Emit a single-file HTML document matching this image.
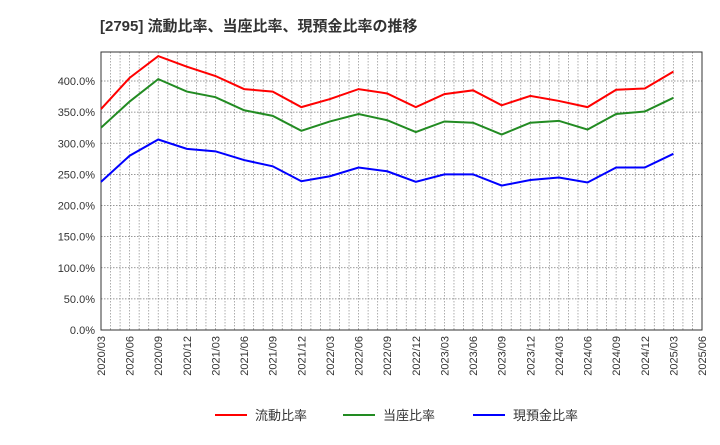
<!DOCTYPE html>
<html><head><meta charset="utf-8"><style>
body{margin:0;background:#fff;width:720px;height:440px;overflow:hidden}
svg text{font-family:"Liberation Sans","Noto Sans CJK JP",sans-serif}
</style></head><body>
<svg id="c" width="720" height="440"></svg>
<script>
const categories=["2020/03","2020/06","2020/09","2020/12","2021/03","2021/06","2021/09","2021/12","2022/03","2022/06","2022/09","2022/12","2023/03","2023/06","2023/09","2023/12","2024/03","2024/06","2024/09","2024/12","2025/03","2025/06"];
const currentRatio=[355,405,440,423,408,387,383,358,371,387,380,358,379,385,361,376,368,358,386,388,415];
const quickRatio=[325,367,403,383,374,353,344,320,335,347,337,318,335,333,314,333,336,322,347,351,373];
const cashRatio=[238,280,306,291,287,273,263,239,247,261,255,238,250,250,232,241,245,237,261,261,283];
const yTicks=[0,50,100,150,200,250,300,350,400];
const seriesNames=["流動比率","当座比率","現預金比率"];
const colors=["#ff0000","#228b22","#0000ff"];
const L=101,R=702,T=52,B=330;
const x=i=>L+i*(R-L)/(categories.length-1);
const y=v=>B-v*0.6225;
const s=document.getElementById('c');const NS="http://www.w3.org/2000/svg";
function mk(t,a,p){const e=document.createElementNS(NS,t);for(const k in a)e.setAttribute(k,a[k]);(p||s).appendChild(e);return e;}
let t=mk('text',{x:100,y:31,'font-size':15,'font-weight':'bold',fill:'#333'});t.textContent="[2795]  流動比率、当座比率、現預金比率の推移";


mk('rect',{x:L,y:T,width:R-L,height:B-T,fill:'#fff'});
for(let m=1;m<(categories.length-1)*3;m++){const xx=L+m*(R-L)/((categories.length-1)*3);
const g=mk('line',{x1:xx,x2:xx,y1:T,y2:B,stroke:'#999','stroke-width':0.8,'stroke-dasharray':'1.5,1.5'});

}
yTicks.forEach(v=>{
const g=mk('line',{x1:L,x2:R,y1:y(v),y2:y(v),stroke:'#777','stroke-width':0.8,'stroke-dasharray':'1.5,1.5'});


const l=mk('text',{x:L-6,y:y(v)+4,'text-anchor':'end','font-size':11,fill:'#333'});l.textContent=v.toFixed(1)+"%";

});
categories.forEach((c,i)=>{const l=mk('text',{transform:`translate(${x(i)+4},336) rotate(-90)`,'text-anchor':'end','font-size':11,fill:'#333'});l.textContent=c;

});
const fr=mk('rect',{x:L,y:T,width:R-L,height:B-T,fill:'none',stroke:'#333','stroke-width':1});


[currentRatio,quickRatio,cashRatio].forEach((d,k)=>{
const p=mk('polyline',{points:d.map((v,i)=>x(i)+','+y(v)).join(' '),fill:'none',stroke:colors[k],'stroke-width':2});

});
const lx=[215,343,473];
seriesNames.forEach((n,k)=>{
const g=mk('g',{});


mk('line',{x1:lx[k],x2:lx[k]+32,y1:415,y2:415,stroke:colors[k],'stroke-width':2},g);
const tt=mk('text',{x:lx[k]+40,y:420,'font-size':13,fill:'#333'},g);tt.textContent=n;});
</script>
</body></html>
